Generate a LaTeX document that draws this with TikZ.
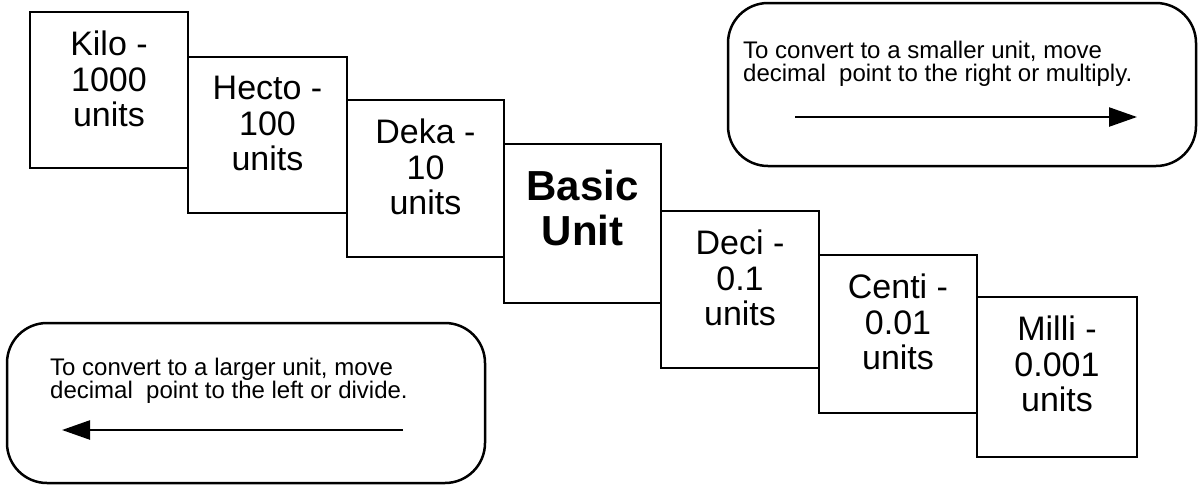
\documentclass[tikz,border=0pt]{standalone}
\usepackage{fontspec}
\setmainfont{Liberation Sans}
\usetikzlibrary{arrows.meta}
\begin{document}
\begin{tikzpicture}[x=1pt,y=-1pt,
  unitbox/.style={draw=black,line width=2.5pt,rectangle,inner sep=0pt},
  unittext/.style={anchor=north,align=center,inner sep=0pt,font=\fontsize{34}{35.5}\selectfont},
  basictext/.style={anchor=north,align=center,inner sep=0pt,font=\fontsize{42}{45}\selectfont\bfseries},
  notebox/.style={draw=black,line width=2.5pt,rectangle,rounded corners=40pt,inner sep=0pt},
  notetext/.style={anchor=north west,align=left,inner sep=0pt,font=\fontsize{24}{22.5}\selectfont},
  convarrow/.style={line width=2.4pt,-{Triangle[length=28pt,width=19pt]}}
]
\useasboundingbox (0,0) rectangle (1199,485);
% staircase boxes
\node[unitbox,minimum width=158pt,minimum height=156pt] (kilo)  at (109,90) {};
\node[unitbox,minimum width=159pt,minimum height=156pt] (hecto) at (267.5,135) {};
\node[unitbox,minimum width=157pt,minimum height=157pt] (deka)  at (425.5,178.5) {};
\node[unitbox,minimum width=157pt,minimum height=159pt] (basic) at (582.5,223.5) {};
\node[unitbox,minimum width=158pt,minimum height=157pt] (deci)  at (740,289.5) {};
\node[unitbox,minimum width=158pt,minimum height=158pt] (centi) at (898,334) {};
\node[unitbox,minimum width=160pt,minimum height=160pt] (milli) at (1057,377) {};
% texts
\node[unittext] (kilot)  at (109,31) {Kilo -\\1000\\units};
\node[unittext] (hectot) at (267.5,76) {Hecto -\\100\\units};
\node[unittext] (dekat)  at (425.5,119) {Deka -\\10\\units};
\node[basictext] (basict) at (582.5,170) {Basic\\Unit};
\node[unittext] (decit)  at (740,230) {Deci -\\0.1\\units};
\node[unittext] (centit) at (898,274) {Centi -\\0.01\\units};
\node[unittext] (millit) at (1057,316) {Milli -\\0.001\\units};
% note boxes
\node[notebox,minimum width=468pt,minimum height=163pt] (smallbox) at (962,84.5) {};
\node[notetext] (smalltext) at (743,41) {To convert to a smaller unit, move\\decimal~ point to the right or multiply.};
\coordinate (sa) at (795,117);
\coordinate (sb) at (1137,117);
\draw[convarrow] (sa) -- (sb);
\node[notebox,minimum width=478pt,minimum height=160pt] (largebox) at (246,403) {};
\node[notetext] (largetext) at (50,358) {To convert to a larger unit, move\\decimal~ point to the left or divide.};
\coordinate (la) at (403,430);
\coordinate (lb) at (62,430);
\draw[convarrow] (la) -- (lb);
\end{tikzpicture}
\end{document}
